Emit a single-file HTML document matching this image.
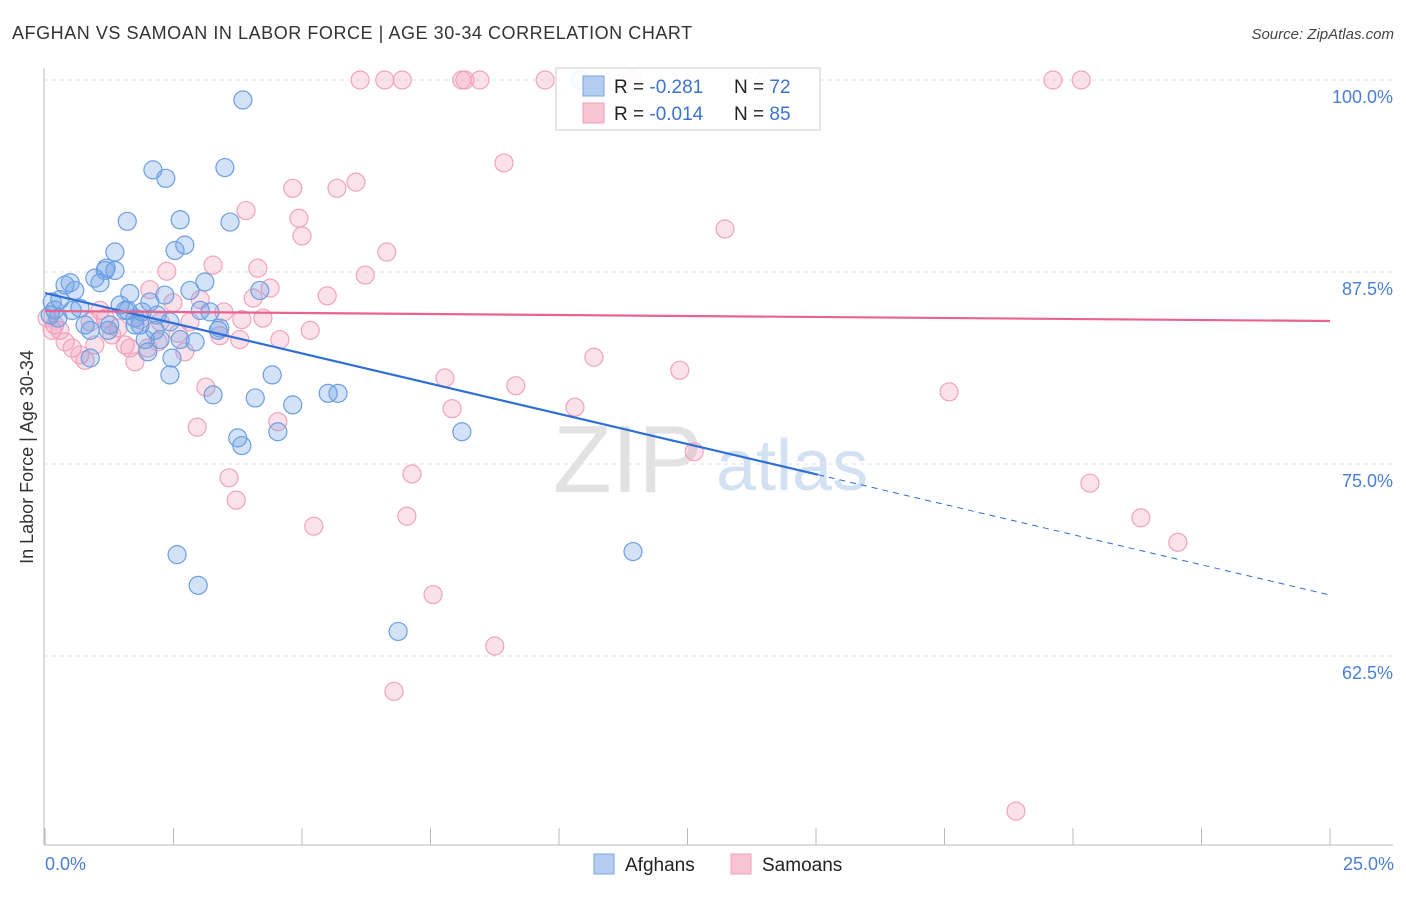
<!DOCTYPE html>
<html><head><meta charset="utf-8"><style>
body{margin:0;background:#fff;font-family:"Liberation Sans",sans-serif;}
svg text{font-family:"Liberation Sans",sans-serif;}
</style></head><body>
<svg id="chart" width="1406" height="892" viewBox="0 0 1406 892" xmlns="http://www.w3.org/2000/svg">
<text x="12" y="39" font-size="18" fill="#333" letter-spacing="0.55">AFGHAN VS SAMOAN IN LABOR FORCE | AGE 30-34 CORRELATION CHART</text>
<text x="1394" y="39" font-size="15" fill="#444" text-anchor="end" font-style="italic">Source: ZipAtlas.com</text>
<g>
<text x="553" y="492" font-size="96" fill="#e2e2e2" font-family="Liberation Serif,serif">ZIP</text>
<text x="716" y="490" font-size="72" fill="#d3e2f3">atlas</text>
</g>
<g id="grid"></g>
<line x1="44" y1="68" x2="44" y2="845" stroke="#bbb"/>
<line x1="44" y1="845" x2="1393" y2="845" stroke="#bbb"/>
<g id="xticks"></g>
<text x="45" y="870" font-size="18" fill="#4a7fd4">0.0%</text>
<text x="1394" y="870" font-size="18" fill="#4a7fd4" text-anchor="end">25.0%</text>
<text transform="translate(33,457) rotate(-90)" font-size="18" fill="#333" text-anchor="middle">In Labor Force | Age 30-34</text>
<g id="points"></g>
<g id="trends"></g>
<g>
<rect x="556" y="68" width="264" height="62" fill="#fff" fill-opacity="0.9" stroke="#ccc"/>
<rect x="583" y="76" width="21" height="20" fill="#b4cdf0" stroke="#7aa5e0"/>
<rect x="583" y="103" width="21" height="20" fill="#f8c4d3" stroke="#f0a0b8"/>
<text x="614" y="93" font-size="19" fill="#222">R = <tspan fill="#3b73d0">-0.281</tspan></text>
<text x="734" y="93" font-size="19" fill="#222">N = <tspan fill="#3b73d0">72</tspan></text>
<text x="614" y="120" font-size="19" fill="#222">R = <tspan fill="#3b73d0">-0.014</tspan></text>
<text x="734" y="120" font-size="19" fill="#222">N = <tspan fill="#3b73d0">85</tspan></text>
</g>
<g>
<rect x="594" y="854" width="20" height="20" fill="#b4cdf0" stroke="#7aa5e0"/>
<text x="625" y="871" font-size="19" fill="#222">Afghans</text>
</g>
<g>
<rect x="731" y="854" width="20" height="20" fill="#f8c4d3" stroke="#f0a0b8"/>
<text x="762" y="871" font-size="19" fill="#222">Samoans</text>
</g>
</svg>
<script>
const yTicks=[100,87.5,75,62.5];
const yTickLabels=["100.0%","87.5%","75.0%","62.5%"];
const xTickValues=[0,2.5,5,7.5,10,12.5,15,17.5,20,22.5,25];
const afgX=[0.14,0.19,0.25,0.10,0.39,0.49,0.58,0.53,0.78,0.88,0.97,1.07,1.17,1.19,1.36,1.36,1.26,1.46,1.56,1.65,1.75,1.85,1.95,2.0,2.04,2.14,2.24,2.33,2.43,2.43,2.47,2.53,2.63,2.72,2.82,2.92,3.02,3.11,3.21,3.27,3.37,3.5,3.6,3.75,3.83,3.85,4.09,4.18,4.42,4.53,4.82,5.51,5.70,6.87,8.11,11.44,2.57,2.98,2.1,2.35,1.6,2.63,2.18,1.75,1.23,3.4,0.88,0.29,0.68,10.41,1.61,1.89];
const afgY=[85.55,85.03,84.5,84.7,86.65,86.8,86.3,85.0,84.05,83.7,87.1,86.8,87.6,87.75,87.6,88.8,84.05,85.35,85.0,86.1,84.5,84.05,83.1,82.3,85.55,83.7,83.1,86.0,84.25,80.8,81.9,88.9,90.9,89.25,86.3,82.95,85.0,86.85,84.9,79.5,83.7,94.3,90.75,76.7,76.2,98.7,79.3,86.3,80.8,77.1,78.85,79.6,79.6,64.1,77.1,69.3,69.1,67.1,94.15,93.6,90.8,83.1,84.7,84.05,83.7,83.85,81.9,85.7,85.15,100,85.0,84.9];
const samX=[6.13,6.61,6.95,8.11,8.17,8.46,9.73,11.42,14.01,19.61,20.16,8.93,6.05,4.82,5.68,3.91,4.94,5.0,13.23,6.65,2.37,3.27,4.14,4.38,6.23,5.49,2.04,3.02,2.49,4.05,3.48,1.07,1.17,1.85,2.24,2.82,3.83,4.24,0.19,0.29,0.14,1.42,2.59,3.4,5.16,0.39,0.53,0.68,0.78,0.97,1.56,1.65,1.75,2.0,2.72,4.57,10.68,12.35,7.78,9.16,3.13,17.59,7.92,10.31,2.96,4.53,12.63,7.14,3.58,3.72,20.33,7.04,5.23,21.32,22.04,7.55,8.75,6.79,18.89,2.2,3.79,1.3,0.04,0.88];
const samY=[100,100,100,100,100,100,100,100,100,100,100,94.6,93.35,92.95,92.95,91.5,91.0,89.85,90.3,88.8,87.55,87.95,87.75,86.45,87.3,85.95,86.35,85.7,85.5,85.8,84.9,85.0,84.5,84.4,84.25,84.25,84.4,84.5,84.05,83.7,83.7,83.85,83.5,83.35,83.7,82.95,82.55,82.1,81.75,82.75,82.75,82.55,81.65,82.55,82.3,83.1,81.95,81.1,80.6,80.1,80.0,79.7,78.6,78.7,77.4,77.75,75.8,74.35,74.1,72.65,73.75,71.6,70.95,71.5,69.9,66.5,63.15,60.2,52.4,82.95,83.1,83.4,84.5,84.25];
const afgTrend=[86.13,66.47];
const afgSolidEnd=15.04;
const samTrend=[84.96,84.31];

const NS="http://www.w3.org/2000/svg";
function xs(v){return 45+v/25*1285;}
function ys(v){return 80+(100-v)*15.36;}
function mk(t,a,p){const e=document.createElementNS(NS,t);for(const k in a)e.setAttribute(k,a[k]);p.appendChild(e);return e;}
const grid=document.getElementById('grid');
yTicks.forEach((t,i)=>{
  const l=mk('line',{x1:44,x2:1393,y1:ys(t),y2:ys(t),stroke:'#e2e2e2','stroke-dasharray':'4,4'},grid);
  
  
  const tx=mk('text',{x:1393,y:ys(t)+23,'font-size':18,fill:'#4a7fd4','text-anchor':'end'},grid);
  tx.textContent=yTickLabels[i];
  
  
});
const xt=document.getElementById('xticks');
xTickValues.forEach(v=>{
  const l=mk('line',{x1:xs(v),x2:xs(v),y1:828,y2:845,stroke:'#bbb'},xt);
  
  
});
const pts=document.getElementById('points');
samX.forEach((x,i)=>{
  const c=mk('circle',{cx:xs(x),cy:ys(samY[i]),r:9,fill:'rgba(242,150,180,0.28)',stroke:'#f0a3bb','stroke-width':1.2},pts);
  
  
});
afgX.forEach((x,i)=>{
  const c=mk('circle',{cx:xs(x),cy:ys(afgY[i]),r:9,fill:'rgba(110,160,230,0.3)',stroke:'#6c9fe0','stroke-width':1.2},pts);
  
  
});
const tr=document.getElementById('trends');
function ay(x){return afgTrend[0]+(afgTrend[1]-afgTrend[0])*x/25;}
let a=mk('line',{x1:xs(0),y1:ys(ay(0)),x2:xs(afgSolidEnd),y2:ys(ay(afgSolidEnd)),stroke:'#2f6fd6','stroke-width':2.2},tr);


a=mk('line',{x1:xs(afgSolidEnd),y1:ys(ay(afgSolidEnd)),x2:xs(25),y2:ys(ay(25)),stroke:'#2f6fd6','stroke-width':1,'stroke-dasharray':'6,5'},tr);


a=mk('line',{x1:xs(0),y1:ys(samTrend[0]),x2:xs(25),y2:ys(samTrend[1]),stroke:'#e8648e','stroke-width':2.2},tr);


</script>
</body></html>
